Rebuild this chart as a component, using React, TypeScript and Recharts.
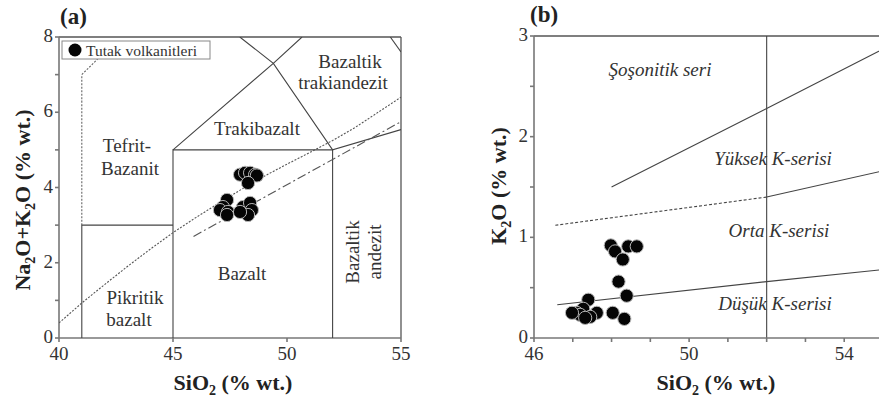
import { ScatterChart, Scatter, XAxis, YAxis, ReferenceLine } from 'recharts'

const FONT = '"Liberation Serif", "Times New Roman", serif'

// (a) TAS diagram
const tasSamples = [
  [47.94, 4.34], [48.16, 4.39], [48.38, 4.39], [48.6, 4.34], [48.68, 4.32], [48.29, 4.12],
  [47.37, 3.67], [47.19, 3.48], [47.06, 3.4], [47.41, 3.35], [47.37, 3.27],
  [48.07, 3.48], [48.38, 3.59], [48.46, 3.4], [48.29, 3.27], [47.94, 3.35],
]
const picroLine = [[41, 0], [41, 3], [45, 3]]
const basaltBox = [[45, 0], [45, 5], [52, 5], [52, 0]]
const trachyLeft = [[45, 5], [49.4, 7.3], [50.66, 8]]
const trachyRight = [[47.93, 8], [49.4, 7.3], [52, 5], [55, 5.54]]
const cornerLine = [[54.53, 8], [55, 7.6]]
const tephriteLine = [[41, 3], [41, 7], [41.72, 7.43]]
const alkalineCurve = [
  [40, 0.4], [41, 0.93], [42, 1.42], [43, 1.9], [44, 2.36], [45, 2.8], [46, 3.2],
  [47, 3.58], [48, 3.95], [49, 4.3], [50, 4.62], [51, 4.93], [52, 5.25], [53, 5.6],
  [54, 6.0], [55, 6.4],
]
const dashDotLine = [[45.9, 2.7], [55, 5.75]]
const tasXTicks = [40, 45, 50, 55]
const tasYTicks = [0, 1, 2, 3, 4, 5, 6, 7, 8]

// (b) K2O vs SiO2
const kSamples = [
  [47.98, 0.92], [48.09, 0.86], [48.29, 0.78], [48.43, 0.91], [48.65, 0.91],
  [48.18, 0.56], [48.39, 0.42], [48.03, 0.25], [48.33, 0.19],
  [47.4, 0.38], [47.27, 0.29], [47.1, 0.25], [47.62, 0.25], [47.45, 0.21],
  [47.19, 0.23], [46.98, 0.25], [47.32, 0.2],
]
const shoshLine = [[48, 1.5], [52, 2.28], [55, 2.87]]
const highKDashed = [[46.55, 1.12], [52, 1.4]]
const highKSolid = [[52, 1.4], [55, 1.66]]
const lowKLine = [[46.6, 0.33], [52, 0.56], [55, 0.68]]
const kXTicks = [46, 47, 48, 49, 50, 51, 52, 53, 54]
const kXLabels = [46, 50, 54]
const kYTicks = [0, 0.5, 1, 1.5, 2, 2.5, 3]

const toXY = (pts: number[][]) => pts.map(([x, y]) => ({ x, y }))
const noShape = () => <g />
const dot = (p: any) => (
  <circle cx={p.cx} cy={p.cy} r={6.6} fill="#050505" stroke="#b8b8b8" strokeWidth={1} />
)

const axisStyle = { stroke: '#777', strokeWidth: 1.6 }

function xTick(labels: number[] | null) {
  return (p: any) => {
    const v = p.payload.value
    if (labels && !labels.includes(v)) return <g />
    return (
      <text x={p.x} y={p.y} dy={16} textAnchor="middle" fontFamily={FONT} fontSize={19} fill="#333">
        {v}
      </text>
    )
  }
}

function yTick(show: (v: number) => boolean) {
  return (p: any) => {
    const v = p.payload.value
    if (!show(v)) return <g />
    return (
      <text x={p.x} y={p.y} dy={5} textAnchor="end" fontFamily={FONT} fontSize={19} fill="#333">
        {v}
      </text>
    )
  }
}

function line(pts: number[][], key: string, dash?: string, color = '#444') {
  return (
    <Scatter
      key={key}
      data={toXY(pts)}
      line={{ stroke: color, strokeWidth: 1.1, strokeDasharray: dash }}
      shape={noShape}
      isAnimationActive={false}
    />
  )
}

function TasChart() {
  return (
    <ScatterChart width={420} height={405} margin={{ top: 37, right: 19, bottom: 0, left: 0 }}>
      <XAxis
        type="number"
        dataKey="x"
        domain={[40, 55]}
        ticks={tasXTicks}
        height={67}
        axisLine={axisStyle}
        tickLine={axisStyle}
        tickSize={4}
        tick={xTick(null)}
        allowDataOverflow
      />
      <YAxis
        type="number"
        dataKey="y"
        domain={[0, 8]}
        ticks={tasYTicks}
        width={59}
        axisLine={axisStyle}
        tickLine={axisStyle}
        tickSize={4}
        tick={yTick((v) => v % 2 === 0)}
        allowDataOverflow
      />
      <ReferenceLine y={8} stroke="#555" strokeWidth={1.3} />
      <ReferenceLine x={55} stroke="#555" strokeWidth={1.3} />
      {line(picroLine, 'picro')}
      {line(basaltBox, 'basalt')}
      {line(trachyLeft, 'tl')}
      {line(trachyRight, 'tr')}
      {line(cornerLine, 'corner')}
      {line(tephriteLine, 'teph', '2 1.5', '#666')}
      {line(alkalineCurve, 'alk', '2 1.5', '#555')}
      {line(dashDotLine, 'dd', '9 3 2 3', '#555')}
      <Scatter data={toXY(tasSamples)} shape={dot} isAnimationActive={false} />
    </ScatterChart>
  )
}

function KChart() {
  return (
    <ScatterChart width={445} height={405} margin={{ top: 36, right: 2, bottom: 0, left: 0 }}>
      <XAxis
        type="number"
        dataKey="x"
        domain={[46, 55]}
        ticks={kXTicks}
        height={67}
        axisLine={axisStyle}
        tickLine={axisStyle}
        tickSize={4}
        tick={xTick(kXLabels)}
        allowDataOverflow
      />
      <YAxis
        type="number"
        dataKey="y"
        domain={[0, 3]}
        ticks={kYTicks}
        width={94}
        axisLine={axisStyle}
        tickLine={axisStyle}
        tickSize={4}
        tick={yTick((v) => Number.isInteger(v))}
        allowDataOverflow
      />
      <ReferenceLine y={3} stroke="#555" strokeWidth={1.3} />
      <ReferenceLine x={52} stroke="#444" strokeWidth={1.1} />
      {line(shoshLine, 'sho')}
      {line(highKDashed, 'hkd', '3 2')}
      {line(highKSolid, 'hks')}
      {line(lowKLine, 'lk')}
      <Scatter data={toXY(kSamples)} shape={dot} isAnimationActive={false} />
    </ScatterChart>
  )
}

const label = { fontFamily: FONT, fontSize: 19, fill: '#333', textAnchor: 'middle' as const }
const italic = { ...label, fontStyle: 'italic' }
const title = { fontFamily: FONT, fontSize: 22, fontWeight: 'bold' as const, fill: '#222' }

function Texts() {
  return (
    <svg width={879} height={405} style={{ position: 'absolute', left: 0, top: 0, pointerEvents: 'none' }}>
      <text x={60} y={24} {...title} fontSize={23}>(a)</text>
      <text x={530} y={22} {...title} fontSize={23}>(b)</text>

      <rect x={62} y={41} width={148} height={18} fill="#fff" stroke="#888" strokeWidth={1} />
      <circle cx={75} cy={50} r={6.5} fill="#050505" />
      <text x={86} y={56} fontFamily={FONT} fontSize={15.5} fill="#333">Tutak volkanitleri</text>

      <text x={350} y={68} {...label}>Bazaltik</text>
      <text x={343} y={89} {...label}>trakiandezit</text>
      <text x={257} y={135} {...label}>Trakibazalt</text>
      <text x={127} y={152} {...label}>Tefrit-</text>
      <text x={130} y={175} {...label}>Bazanit</text>
      <text x={242} y={280} {...label}>Bazalt</text>
      <text x={135} y={304} {...label}>Pikritik</text>
      <text x={129} y={326} {...label}>bazalt</text>
      <text transform="translate(359 252) rotate(-90)" {...label}>Bazaltik</text>
      <text transform="translate(381 252) rotate(-90)" {...label}>andezit</text>

      <text x={660} y={76} {...italic}>Şoşonitik seri</text>
      <text x={773} y={165} {...italic}>Yüksek K-serisi</text>
      <text x={779} y={237} {...italic}>Orta K-serisi</text>
      <text x={775} y={310} {...italic}>Düşük K-serisi</text>

      <text x={233} y={390} {...title} textAnchor="middle">
        SiO<tspan fontSize={14} dy={5}>2</tspan><tspan dy={-5}> (% wt.)</tspan>
      </text>
      <text x={716} y={390} {...title} textAnchor="middle">
        SiO<tspan fontSize={14} dy={5}>2</tspan><tspan dy={-5}> (% wt.)</tspan>
      </text>
      <text transform="translate(30 200) rotate(-90)" {...title} textAnchor="middle">
        Na<tspan fontSize={14} dy={5}>2</tspan><tspan dy={-5}>O+K</tspan>
        <tspan fontSize={14} dy={5}>2</tspan><tspan dy={-5}>O (% wt.)</tspan>
      </text>
      <text transform="translate(506 186) rotate(-90)" {...title} textAnchor="middle">
        K<tspan fontSize={14} dy={5}>2</tspan><tspan dy={-5}>O (% wt.)</tspan>
      </text>
    </svg>
  )
}

export default function App() {
  return (
    <div
      style={{
        position: 'absolute',
        left: 0,
        top: 0,
        width: 879,
        height: 405,
        overflow: 'hidden',
        background: '#fff',
      }}
    >
      <div style={{ position: 'absolute', left: 0, top: 0 }}>
        <TasChart />
      </div>
      <div style={{ position: 'absolute', left: 440, top: 0 }}>
        <KChart />
      </div>
      <Texts />
    </div>
  )
}
